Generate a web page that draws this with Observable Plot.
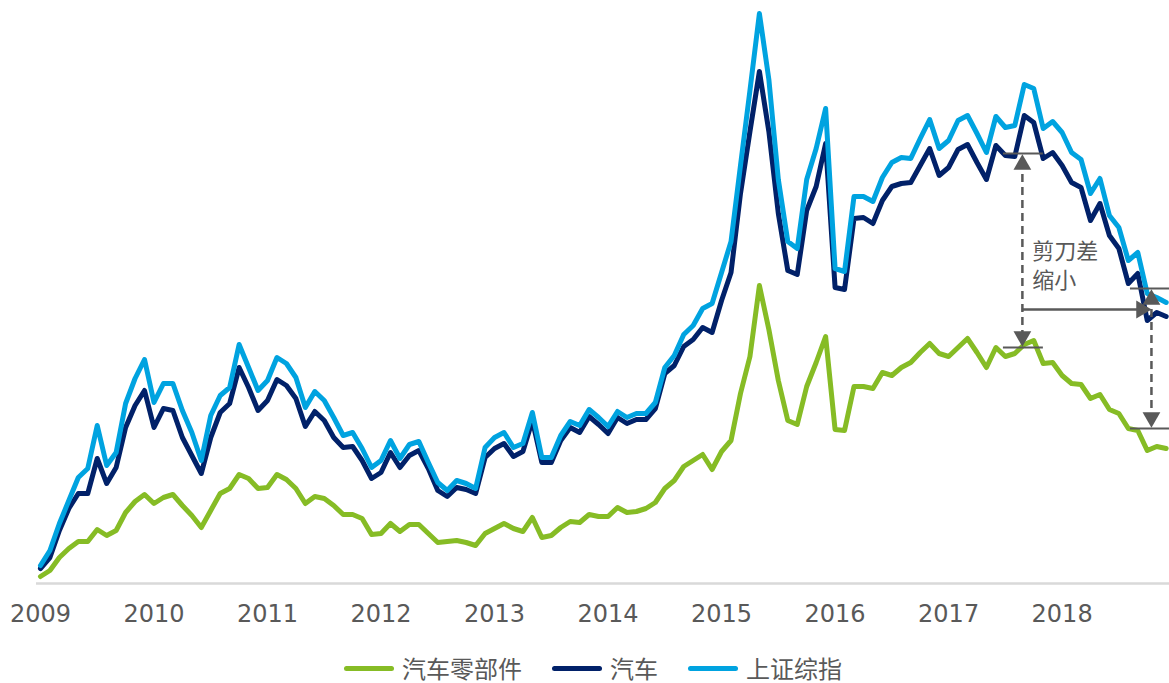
<!DOCTYPE html>
<html><head><meta charset="utf-8">
<script src="https://cdn.jsdelivr.net/npm/d3@7"></script>
<script src="https://cdn.jsdelivr.net/npm/@observablehq/plot@0.6"></script>
<style>
body{margin:0;background:#fff;font-family:"DejaVu Sans","Noto Sans CJK SC",sans-serif;}
#wrap{position:relative;width:1169px;height:683px;}
#legend{position:absolute;left:0;top:649px;width:1169px;height:38px;display:flex;justify-content:center;align-items:center;gap:30px;padding-left:17px;box-sizing:border-box;font-size:24px;line-height:38px;color:#595959;font-family:"Noto Sans CJK SC",sans-serif;}
.item{display:flex;align-items:center;gap:8px;}
.sw{width:50px;height:5px;border-radius:3px;}
</style></head><body><div id="wrap"><div id="chart"></div><div id="legend"></div></div>
<script>
// ---- data (monthly, Jan 2009 – Dec 2018), readings in index units ----
const startYear = 2009;
const yearTicks = [2009, 2010, 2011, 2012, 2013, 2014, 2015, 2016, 2017, 2018];
const seriesNames = ["汽车零部件", "汽车", "上证综指"];
const seriesColors = ["#86BC25", "#012169", "#00A3E0"];

const parts = [7,13,26,35,42,42,54,48,53,71,82,89,80,86,89,78,68,56,73,90,95,109,105,95,96,109,104,95,80,87,85,78,69,69,65,49,50,60,52,59,59,50,41,42,43,41,38,50,55,60,55,52,66,46,48,56,62,61,69,67,67,76,71,72,75,81,95,103,117,123,129,114,132,143,190,227,298,254,203,163,159,197,221,247,154,153,197,197,195,211,208,216,221,231,240,230,227,236,245,231,216,236,227,230,239,243,220,221,208,200,199,185,189,174,170,155,153,133,137,135];
const auto = [15,26,53,75,90,90,125,100,116,156,178,193,156,175,173,146,128,110,146,171,180,216,196,173,183,204,198,185,157,172,163,146,136,137,123,105,111,131,116,128,133,115,93,87,96,94,90,126,135,140,127,132,163,121,121,143,156,151,167,159,150,166,160,164,164,175,210,218,237,244,256,251,283,311,390,452,512,452,370,313,309,373,397,440,296,294,365,366,360,383,397,400,401,418,435,408,416,434,439,421,404,438,428,427,468,461,425,431,418,401,396,363,380,348,335,300,310,263,271,267];
const sse = [18,33,60,83,106,115,158,118,131,180,205,224,181,200,200,173,151,123,168,188,196,239,216,193,203,226,220,206,176,192,183,166,148,151,135,116,123,143,125,139,142,121,101,93,103,100,95,136,146,151,136,140,171,126,126,148,162,158,174,166,157,172,166,170,170,181,216,228,249,258,275,280,311,342,418,493,570,504,404,342,335,404,435,475,315,312,387,387,382,406,421,426,425,445,464,435,443,463,468,450,431,467,456,458,499,495,455,462,451,431,424,390,405,368,356,323,331,290,286,281];

// annotation: scissors gap narrowing
const gapX = [2017.65, 2018.787];        // position of the two vertical arrows
const gapTop = [430, 295];               // upper level (汽车)
const gapBottom = [236, 155];            // lower level (汽车零部件)
const gapTickFrom = [2017.483, 2018.602];
const gapTickTo = [2017.835, 2018.946];
const shiftArrow = {from: 2017.65, to: 2018.76, level: 274};
const noteLines = ["剪刀差", "缩小"];
const noteX = 2017.738;
const noteLevels = [332, 303];

// ---- build ----
const rows = [];
[parts, auto, sse].forEach((arr, k) => arr.forEach((v, i) =>
  rows.push({series: seriesNames[k], t: startYear + i / 12, v})));

const gaps = gapX.map((x, i) => ({x, top: gapTop[i], bottom: gapBottom[i]}));
const ticks = [];
gapX.forEach((x, i) => {
  ticks.push({x1: gapTickFrom[i], x2: gapTickTo[i], v: gapTop[i]});
  ticks.push({x1: gapTickFrom[i], x2: gapTickTo[i], v: gapBottom[i]});
});
const notes = noteLines.map((label, i) => ({label, x: noteX, v: noteLevels[i]}));
const gray = "#595959";

const chart = Plot.plot({
  width: 1169,
  height: 635,
  marginLeft: 36,
  marginRight: 0,
  marginTop: 0,
  marginBottom: 52,
  style: {fontFamily: '"DejaVu Sans","Noto Sans CJK SC",sans-serif', fontSize: "24px", color: gray, background: "#fff"},
  x: {domain: [2008.965, 2018.946]},
  y: {domain: [0, 583], axis: null},
  color: {domain: seriesNames, range: seriesColors},
  marks: [
    Plot.ruleY([0], {stroke: "#d9d9d9", strokeWidth: 2.5}),
    Plot.axisX({ticks: yearTicks, tickFormat: d => String(d), tickSize: 0, tickPadding: 21, fontSize: 24}),
    Plot.line(rows, {x: "t", y: "v", z: "series", stroke: "series", strokeWidth: 5, strokeLinejoin: "round", strokeLinecap: "round"}),
    Plot.ruleY(ticks, {y: "v", x1: "x1", x2: "x2", stroke: gray, strokeWidth: 2}),
    Plot.ruleX(gaps, {x: "x", y1: "top", y2: "bottom", stroke: gray, strokeWidth: 2.5, strokeDasharray: "8,5", insetTop: 8, insetBottom: 8}),
    Plot.ruleY([shiftArrow], {y: "level", x1: "from", x2: "to", stroke: gray, strokeWidth: 2.5, insetRight: 10}),
    Plot.dot(gaps, {x: "x", y: "top", symbol: "triangle", r: 6.6, fill: gray, stroke: null, dy: 11}),
    Plot.dot(gaps, {x: "x", y: "bottom", symbol: "triangle", r: 6.6, fill: gray, stroke: null, rotate: 180, dy: -11}),
    Plot.dot([shiftArrow], {x: "to", y: "level", symbol: "triangle", r: 6.6, fill: gray, stroke: null, rotate: 90, dx: -7}),
    Plot.text(notes, {x: "x", y: "v", text: "label", textAnchor: "start", fontSize: 22, fill: gray, fontFamily: '"Noto Sans CJK SC",sans-serif'})
  ]
});
document.getElementById("chart").appendChild(chart);

const legend = document.getElementById("legend");
seriesNames.forEach((name, i) => {
  const item = document.createElement("div");
  item.className = "item";
  const sw = document.createElement("div");
  sw.className = "sw";
  sw.style.background = seriesColors[i];
  const label = document.createElement("span");
  label.textContent = name;
  item.appendChild(sw);
  item.appendChild(label);
  legend.appendChild(item);
});
</script></body></html>
